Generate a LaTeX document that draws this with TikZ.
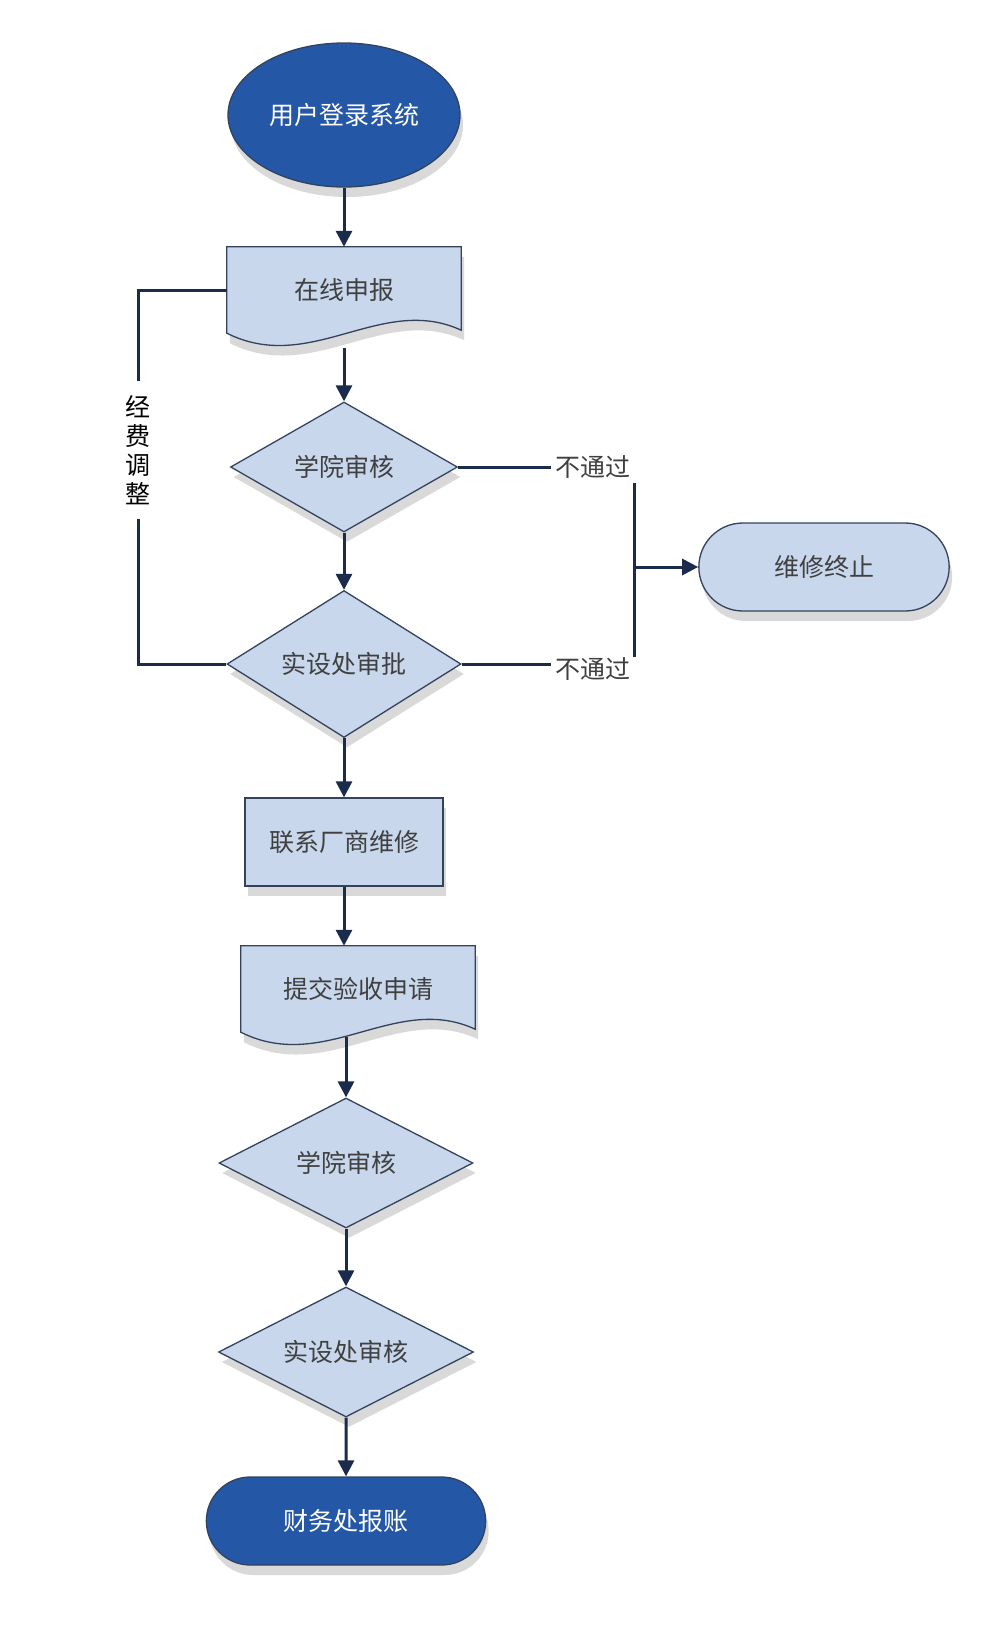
\documentclass[tikz,border=0pt]{standalone}
\usepackage{fontspec}
\setmainfont{Noto Sans CJK SC}
\usepackage{tikz}
\usetikzlibrary{positioning,shapes.geometric,shapes.misc,shadows,arrows.meta,backgrounds}

\definecolor{darkfill}{HTML}{2457A6}
\definecolor{lightfill}{HTML}{C8D7EC}
\definecolor{edgeline}{HTML}{33435C}
\definecolor{arrowline}{HTML}{1B2B4B}
\definecolor{labelgray}{HTML}{404040}

\tikzset{
  shade box/.style={drop shadow={shadow xshift=3pt,shadow yshift=-10pt,opacity=1,fill=black!15}},
  base/.style={draw=edgeline,line width=1.3pt,font=\fontsize{25}{30}\selectfont,shade box},
  startnode/.style={base,ellipse,fill=darkfill,text=white,minimum width=232pt,minimum height=144pt},
  finishnode/.style={base,rounded rectangle,fill=darkfill,text=white,minimum width=286pt,minimum height=88pt},
  stopnode/.style={base,rounded rectangle,fill=lightfill,text=labelgray,minimum width=257pt,minimum height=88pt},
  process/.style={base,rectangle,fill=lightfill,text=labelgray,minimum width=198pt,minimum height=88pt},
  decision/.style={base,diamond,aspect=1.7,inner sep=2pt,fill=lightfill,text=labelgray,minimum width=227pt,minimum height=130pt},
  doc/.style={rectangle,font=\fontsize{25}{30}\selectfont,text=labelgray,minimum width=234pt,minimum height=86pt},
  docshape/.style={draw=edgeline,line width=1.3pt,fill=lightfill,shade box},
  remark/.style={font=\fontsize{25}{30}\selectfont,text=labelgray,inner sep=4pt},
  flow/.style={arrowline,line width=3pt,-{Triangle[width=16pt,length=16pt]}},
  link/.style={draw=arrowline,line width=3pt}
}

\begin{document}
\begin{tikzpicture}[x=1pt,y=1pt,node distance=175pt,on grid]
   \useasboundingbox (0,0) rectangle (987,-1639);
   \node[startnode] (login) at (344,-115) {用户登录系统};
   \node[doc] (apply) [below=of login] {在线申报};
   \node[decision] (check1) [below=177pt of apply] {学院审核};
   \node[decision,minimum width=234pt,minimum height=147pt] (approve) [below=197pt of check1] {实设处审批};
   \node[process] (contact) [below=178pt of approve] {联系厂商维修};
   \node[doc] (submit) [below right=147pt and 14pt of contact] {提交验收申请};
   \node[decision,minimum width=254pt] (check2) [below left=174pt and 12pt of submit] {学院审核};
   \node[decision,minimum width=255pt] (verify) [below=189pt of check2] {实设处审核};
   \node[finishnode] (finance) [below=169pt of verify] {财务处报账};
   \node[stopnode] (stop) [below right=100pt and 480pt of check1] {维修终止};

   \node[remark] (fail1) [right=249pt of check1] {不通过};
   \node[remark] (fail2) [below right=5pt and 249pt of approve] {不通过};
   \node[remark,text=black,align=center,font=\fontsize{25}{29}\selectfont,inner ysep=14pt]
      (adjust) [below left=160pt and 206pt of apply] {经\\费\\调\\整};

   \coordinate (bartop) at ([xshift=41pt,yshift=-16pt]fail1.center);
   \coordinate (barbot) at ([xshift=41pt,yshift=12pt]fail2.center);

   % wavy documents
   \begin{scope}[on background layer]
     \foreach \n in {apply,submit}
       \path[docshape] (\n.north west) -- (\n.north east) -- ([yshift=3pt]\n.south east)
         .. controls +(-80pt,37pt) and +(84pt,-42pt) .. (\n.south west) -- cycle;
   \end{scope}

   \path[flow]
    (login) edge (apply)
    ([yshift=-15pt]apply.south) edge (check1)
    (check1) edge (approve)
    (approve) edge (contact)
    (contact) edge (contact |- submit.north)
    ([yshift=-5pt]submit.south -| check2) edge (check2)
    (check2) edge (verify)
    (verify) edge (finance)
    (bartop |- stop) edge (stop);

   \draw[link] (check1.east) -- (fail1.west);
   \draw[link] (approve.east) -- (approve.east -| fail2.west);
   \draw[link] (bartop) -- (barbot);
   \draw[link] (apply.west) -| (adjust.north);
   \draw[link] (adjust.south) |- (approve.west);
\end{tikzpicture}
\end{document}
